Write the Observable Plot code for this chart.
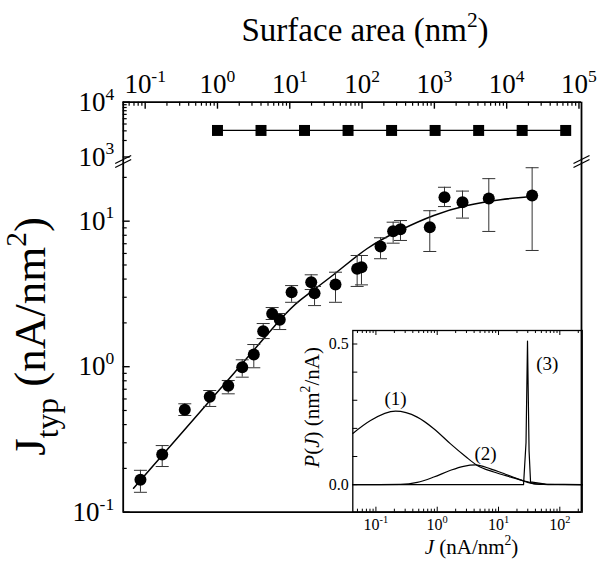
<!DOCTYPE html>
<html><head><meta charset="utf-8">
<script src="https://cdn.jsdelivr.net/npm/d3@7"></script>
<script src="https://cdn.jsdelivr.net/npm/@observablehq/plot@0.6"></script>
<style>
body{margin:0;background:#fff}
#chart{position:relative;width:600px;height:567px;overflow:hidden;background:#fff}
#chart svg{position:absolute;left:0;top:0}
</style></head><body><div id="chart"></div>
<script>
// ---------- data ----------
const squareArea = [1, 4, 16, 64, 256, 1024, 4096, 16384, 65536];
const squareJ    = [3050, 3050, 3050, 3050, 3050, 3050, 3050, 3050, 3050];

const circleArea = [0.086, 0.172, 0.353, 0.782, 1.41, 2.2, 3.18, 4.29, 5.71, 7.27, 10.6, 19.8, 22.0, 42.9, 85.5, 98.1, 180, 269, 340, 864, 1380, 2450, 5660, 22500];
const circleJ    = [0.167, 0.249, 0.506, 0.621, 0.739, 0.992, 1.213, 1.754, 2.31, 2.10, 3.25, 3.81, 3.20, 3.67, 4.71, 4.83, 6.70, 8.54, 8.81, 9.09, 14.6, 13.5, 14.3, 15.0];
const circleLow  = [0.137, 0.206, 0.462, 0.533, 0.651, 0.847, 0.983, 1.56, 2.11, 1.80, 2.77, 3.39, 2.63, 2.77, 3.56, 3.65, 5.52, 7.06, 7.37, 6.19, 12.6, 10.5, 8.5, 6.29];
const circleHigh = [0.194, 0.287, 0.556, 0.686, 0.804, 1.115, 1.42, 1.98, 2.55, 2.32, 3.61, 4.28, 3.56, 4.46, 5.81, 5.81, 7.69, 9.84, 10.1, 11.8, 17.1, 16.1, 19.6, 23.3];

const fitArea = [0.069, 0.8, 2.2, 7.04, 14.1, 40.6, 118, 340, 982, 2840, 8210, 21300];
const fitJ    = [0.146, 0.59, 1.05, 2.05, 2.88, 4.30, 6.49, 8.70, 10.95, 12.82, 14.03, 14.79];

const curve1J = [0.042, 0.0817, 0.209, 0.472, 0.88, 1.65, 2.9, 4.5, 8.38, 15.7, 27.5, 40.2, 102, 232];
const curve1P = [0.182, 0.228, 0.261, 0.240, 0.199, 0.145, 0.100, 0.068, 0.045, 0.027, 0.012, 0.003, 0, 0];
const curve2J = [0.042, 0.252, 0.472, 0.88, 1.65, 2.69, 4.22, 7.4, 13.0, 22.9, 29.7, 48.4, 232];
const curve2P = [0, 0.001, 0.008, 0.027, 0.051, 0.065, 0.070, 0.056, 0.037, 0.017, 0.008, 0.001, 0];
const curve3J = [0.042, 25.6, 28.1, 29.7, 31.5, 33.3, 58.4, 232];
const curve3P = [0, 0, 0.15, 0.51, 0.12, 0.01, 0.002, 0];

const curveLabels = ["(1)", "(2)", "(3)"];
const curveLabelJ = [0.209, 6.14, 62.4];
const curveLabelP = [0.305, 0.11, 0.429];

const topTickDecades = [-1, 0, 1, 2, 3, 4, 5];
const upperTickDecades = [3, 4];
const lowerTickDecades = [-1, 0, 1];
const insetTickDecades = [-1, 0, 1, 2];
const insetYTicks = [0, 0.1, 0.2, 0.3, 0.4, 0.5];
const insetYLabels = [0, 0.5];

const xTitle = "Surface area (nm^{2})";
const yTitle = "J_{typ} (nA/nm^{2})";
const insetXTitle = "~{J} (nA/nm^{2})";
const insetYTitle = "~{P}(~{J}) (nm^{2}/nA)";

// ---------- layout ----------
const W = 600, H = 567;
const FONT = '"Liberation Serif","Times New Roman",serif';
const L = 122.7, R = 581, TOP = 101.7, BRK = 160, BOT = 511.7;
const IL = 352.3, IR = 581.7, IT = 330, IB = 511.7;
const xDomain = [10 ** -1.304, 10 ** 5.035];
const upperDomain = [10 ** 2.936, 1e4];
const lowerDomain = [0.1, 10 ** 1.417];
const insetXDomain = [10 ** -1.377, 10 ** 2.365];
const insetYDomain = [-0.098, 0.548];

function logTicks([lo, hi]) {
  const major = [], minor = [];
  for (let k = Math.floor(Math.log10(lo)) - 1; k <= Math.ceil(Math.log10(hi)); k++) {
    for (let m = 1; m <= 9; m++) {
      const v = +(m * 10 ** k).toPrecision(12);
      if (v < lo * 0.9999 || v > hi * 1.0001) continue;
      (m === 1 ? major : minor).push(v);
    }
  }
  return {major, minor};
}
const sup10 = d => `10^{${Math.round(Math.log10(d))}}`;
const cap = {draw(ctx) { ctx.moveTo(-6.5, 0); ctx.lineTo(6.5, 0); }};
const breakSym = {draw(ctx) { ctx.moveTo(-8, 2); ctx.lineTo(8, -6); ctx.moveTo(-8, 6); ctx.lineTo(8, -2); }};

const squares = squareArea.map((a, i) => ({a, j: squareJ[i]}));
const circles = circleArea.map((a, i) => ({a, j: circleJ[i], lo: circleLow[i], hi: circleHigh[i]}));
const fit = fitArea.map((a, i) => ({a, j: fitJ[i]}));
const c1 = curve1J.map((x, i) => ({x, y: curve1P[i]}));
const c2 = curve2J.map((x, i) => ({x, y: curve2P[i]}));
const c3 = curve3J.map((x, i) => ({x, y: curve3P[i]}));
const labs = curveLabels.map((t, i) => ({t, x: curveLabelJ[i], y: curveLabelP[i]}));

const tt = logTicks(xDomain);
const topMajor = tt.major.filter(v => topTickDecades.includes(Math.round(Math.log10(v))));
const ut = logTicks([1e3, 1e4]);
const lt = logTicks(lowerDomain);
const it = logTicks(insetXDomain);

const baseStyle = {fontFamily: FONT, background: "transparent", color: "black", overflow: "visible"};

// ---------- upper panel + top axis ----------
const hA = BRK - TOP;
const plotA = Plot.plot({
  width: W, height: H,
  marginLeft: L, marginRight: W - R, marginTop: TOP, marginBottom: H - BRK,
  x: {type: "log", domain: xDomain},
  y: {type: "log", domain: upperDomain},
  style: {...baseStyle, fontSize: "27px"},
  marks: [
    Plot.ruleX(xDomain, {x: d => d, stroke: "black", strokeWidth: 1.8}),
    Plot.ruleY([1e4], {y: d => d, stroke: "black", strokeWidth: 1.8}),
    Plot.tickX(tt.major, {x: d => d, insetBottom: hA - 7, strokeWidth: 1.4}),
    Plot.tickX(tt.minor, {x: d => d, insetBottom: hA - 4, strokeWidth: 1.2}),
    Plot.tickY(ut.major, {y: d => d, insetRight: (R - L) - 7, strokeWidth: 1.4}),
    Plot.tickY(ut.minor, {y: d => d, insetRight: (R - L) - 4, strokeWidth: 1.2}),
    Plot.axisX(topMajor, {anchor: "top", tickSize: 0, tickPadding: 9, tickFormat: sup10, label: null, fontSize: 27}),
    Plot.axisY(upperTickDecades.map(k => 10 ** k), {anchor: "left", tickSize: 0, tickPadding: 9, tickFormat: sup10, label: null, fontSize: 27}),
    Plot.line(squares, {x: "a", y: "j", stroke: "black", strokeWidth: 1.3}),
    Plot.dot(squares, {x: "a", y: "j", symbol: "square", r: 6.2, fill: "black"}),
    Plot.text([xTitle], {frameAnchor: "top", text: d => d, dx: 12.7, dy: -71.7, fontSize: 33, lineAnchor: "middle", textAnchor: "middle"})
  ]
});

// ---------- lower panel ----------
const plotB = Plot.plot({
  width: W, height: H,
  marginLeft: L, marginRight: W - R, marginTop: BRK, marginBottom: H - BOT,
  x: {type: "log", domain: xDomain, axis: null},
  y: {type: "log", domain: lowerDomain},
  style: {...baseStyle, fontSize: "27px"},
  marks: [
    Plot.ruleX(xDomain, {x: d => d, stroke: "black", strokeWidth: 1.8}),
    Plot.ruleY([0.1], {y: d => d, stroke: "black", strokeWidth: 1.8}),
    Plot.tickY(lt.major, {y: d => d, insetRight: (R - L) - 7, strokeWidth: 1.4}),
    Plot.tickY(lt.minor, {y: d => d, insetRight: (R - L) - 4, strokeWidth: 1.2}),
    Plot.axisY(lowerTickDecades.map(k => 10 ** k), {anchor: "left", tickSize: 0, tickPadding: 9, tickFormat: sup10, label: null, fontSize: 27}),
    Plot.line(fit, {x: "a", y: "j", curve: "natural", stroke: "black", strokeWidth: 1.5}),
    Plot.ruleX(circles, {x: "a", y1: "lo", y2: "hi", stroke: "#333", strokeWidth: 1}),
    Plot.dot(circles, {x: "a", y: "lo", symbol: cap, stroke: "#333", strokeWidth: 1}),
    Plot.dot(circles, {x: "a", y: "hi", symbol: cap, stroke: "#333", strokeWidth: 1}),
    Plot.dot(circles, {x: "a", y: "j", r: 6, fill: "black"}),
    Plot.dot([xDomain[0], xDomain[1]], {x: d => d, y: () => lowerDomain[1], symbol: breakSym, stroke: "black", fill: "none", strokeWidth: 1.3, dy: 1}),
    Plot.text([yTitle], {frameAnchor: "left", text: d => d, rotate: -90, dx: 30 - L, dy: 0, fontSize: 45, lineAnchor: "middle", textAnchor: "middle"})
  ]
});

// ---------- inset ----------
const iw = IR - IL, ih = IB - IT;
const plotC = Plot.plot({
  width: W, height: H,
  marginLeft: IL, marginRight: W - IR, marginTop: IT, marginBottom: H - IB,
  x: {type: "log", domain: insetXDomain},
  y: {domain: insetYDomain},
  style: {...baseStyle, fontSize: "16px"},
  marks: [
    Plot.frame({stroke: "black", strokeWidth: 1.3}),
    Plot.tickX(it.major, {x: d => d, insetTop: ih - 5, strokeWidth: 1}),
    Plot.tickX(it.minor, {x: d => d, insetTop: ih - 3, strokeWidth: 1}),
    Plot.tickX(it.major, {x: d => d, insetBottom: ih - 5, strokeWidth: 1}),
    Plot.tickX(it.minor, {x: d => d, insetBottom: ih - 3, strokeWidth: 1}),
    Plot.tickY(insetYTicks, {y: d => d, insetRight: iw - 5, strokeWidth: 1}),
    Plot.axisY(insetYLabels, {anchor: "left", tickSize: 0, tickPadding: 4, tickFormat: d3.format(".1f"), label: null, fontSize: 16}),
    Plot.axisX(insetTickDecades.map(k => 10 ** k), {anchor: "bottom", tickSize: 0, tickPadding: 6, tickFormat: sup10, label: null, fontSize: 16}),
    Plot.line(c1, {x: "x", y: "y", curve: "monotone-x", stroke: "black", strokeWidth: 1.2}),
    Plot.line(c2, {x: "x", y: "y", curve: "monotone-x", stroke: "black", strokeWidth: 1.2}),
    Plot.line(c3, {x: "x", y: "y", curve: "linear", stroke: "black", strokeWidth: 1.2}),
    Plot.text(labs, {x: "x", y: "y", text: "t", fontSize: 19}),
    Plot.text([insetXTitle], {frameAnchor: "bottom", text: d => d, dx: 4, dy: 35, fontSize: 21, lineAnchor: "middle", textAnchor: "middle"}),
    Plot.text([insetYTitle], {frameAnchor: "left", text: d => d, rotate: -90, dx: 312 - IL, dy: -14, fontSize: 21, lineAnchor: "middle", textAnchor: "middle"})
  ]
});

const chart = document.getElementById("chart");
chart.append(plotB, plotA, plotC);

// ---------- rich text: ^{sup}, _{sub}, ~{italic} ----------
function rich(el) {
  const s = el.textContent;
  if (!/[\^_~]\{/.test(s)) return;
  while (el.firstChild) el.removeChild(el.firstChild);
  const NS = "http://www.w3.org/2000/svg";
  const re = /([\^_~])\{([^}]*)\}/g;
  let last = 0, m, shift = 0;
  function seg(txt, kind) {
    if (!txt) return;
    const t = document.createElementNS(NS, "tspan");
    t.textContent = txt;
    if (kind === "^") {
      const f = 0.65, target = -0.42;
      t.style.fontSize = (f * 100) + "%";
      t.setAttribute("dy", ((target - shift) / f).toFixed(3) + "em");
      shift = target;
    } else if (kind === "_") {
      const f = 0.7, target = 0.28;
      t.style.fontSize = (f * 100) + "%";
      t.setAttribute("dy", ((target - shift) / f).toFixed(3) + "em");
      shift = target;
    } else {
      if (kind === "~") t.setAttribute("font-style", "italic");
      if (shift !== 0) { t.setAttribute("dy", (-shift).toFixed(3) + "em"); shift = 0; }
    }
    el.appendChild(t);
  }
  while ((m = re.exec(s))) { seg(s.slice(last, m.index), ""); seg(m[2], m[1]); last = re.lastIndex; }
  seg(s.slice(last), "");
}
chart.querySelectorAll("text").forEach(rich);
</script></body></html>
